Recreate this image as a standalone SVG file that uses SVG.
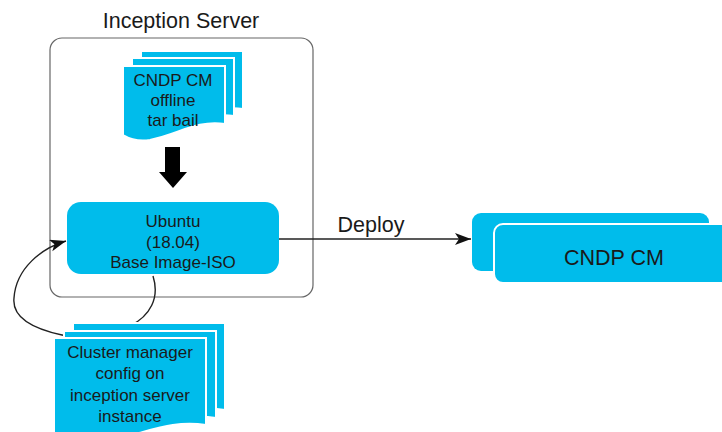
<svg xmlns="http://www.w3.org/2000/svg" width="722" height="432" viewBox="0 0 722 432">
  <style>
    .txt { font-family: "Liberation Sans", Arial, sans-serif; fill: #1a1a1a; text-anchor: middle; }
    .doc { fill: #00BCEB; stroke: #ffffff; stroke-width: 2; }
    .box { fill: #00BCEB; }
    .conn { fill: none; stroke: #222; stroke-width: 1.4; }
  </style>
  <defs>
    <marker id="ah" markerUnits="userSpaceOnUse" markerWidth="18" markerHeight="14" refX="16" refY="6" orient="auto">
      <path d="M0,0 L16,6 L0,12 L4,6 Z" fill="#111"/>
    </marker>
  </defs>
  <rect width="722" height="432" fill="#ffffff"/>

  <g id="inception-server">
    <rect x="50" y="38" width="263" height="259" rx="12" ry="12" fill="none" stroke="#666" stroke-width="1.2"/>
    <text class="txt" x="181" y="28" font-size="21.5">Inception Server</text>
  </g>

  <g id="connectors">
    <path class="conn" d="M153,276 C160,298 150,316 130,326 C110,336 85,340 62,335 C30,328 12,316 14,298 C16,268 42,248 66,241" marker-end="url(#ah)"/>
    <path class="conn" d="M279,239 H471" marker-end="url(#ah)"/>
    <text class="txt" x="371" y="232" font-size="21.5">Deploy</text>
    <path d="M165,147 H180 V172 H187 L173,188 L159,172 H165 Z" fill="#000"/>
  </g>

  <g id="tarball-doc">
    <path class="doc" transform="translate(18,-15)" d="M123,66 H225 V124 C195,120 180,134 150,140 C138,142 128,138 123,135 Z"/>
    <path class="doc" transform="translate(9,-8)" d="M123,66 H225 V124 C195,120 180,134 150,140 C138,142 128,138 123,135 Z"/>
    <path class="doc" d="M123,66 H225 V124 C195,120 180,134 150,140 C138,142 128,138 123,135 Z"/>
    <text class="txt" x="173" y="86" font-size="17">CNDP CM</text>
    <text class="txt" x="173" y="106" font-size="17">offline</text>
    <text class="txt" x="173" y="126" font-size="17">tar bail</text>
  </g>

  <g id="ubuntu">
    <rect class="box" x="67" y="202" width="212" height="72" rx="14" ry="14"/>
    <text class="txt" x="173" y="227" font-size="17">Ubuntu</text>
    <text class="txt" x="173" y="248" font-size="17">(18.04)</text>
    <text class="txt" x="173" y="268" font-size="17">Base Image-ISO</text>
  </g>

  <g id="cluster-config-doc">
    <path class="doc" transform="translate(19,-15)" d="M54,338 H206 V425 C170,420 150,432 110,440 C85,444 65,442 54,438 Z"/>
    <path class="doc" transform="translate(10,-7)" d="M54,338 H206 V425 C170,420 150,432 110,440 C85,444 65,442 54,438 Z"/>
    <path class="doc" d="M54,338 H206 V425 C170,420 150,432 110,440 C85,444 65,442 54,438 Z"/>
    <text class="txt" x="130" y="358" font-size="17">Cluster manager</text>
    <text class="txt" x="130" y="379" font-size="17">config on</text>
    <text class="txt" x="130" y="401" font-size="17">inception server</text>
    <text class="txt" x="130" y="422" font-size="17">instance</text>
  </g>

  <g id="cndp-cm">
    <rect class="box" x="472" y="213" width="237" height="58" rx="9" ry="9"/>
    <rect class="box" x="494" y="224" width="240" height="59" rx="9" ry="9" stroke="#ffffff" stroke-width="2"/>
    <text class="txt" x="614" y="265" font-size="21.5">CNDP CM</text>
  </g>
</svg>
